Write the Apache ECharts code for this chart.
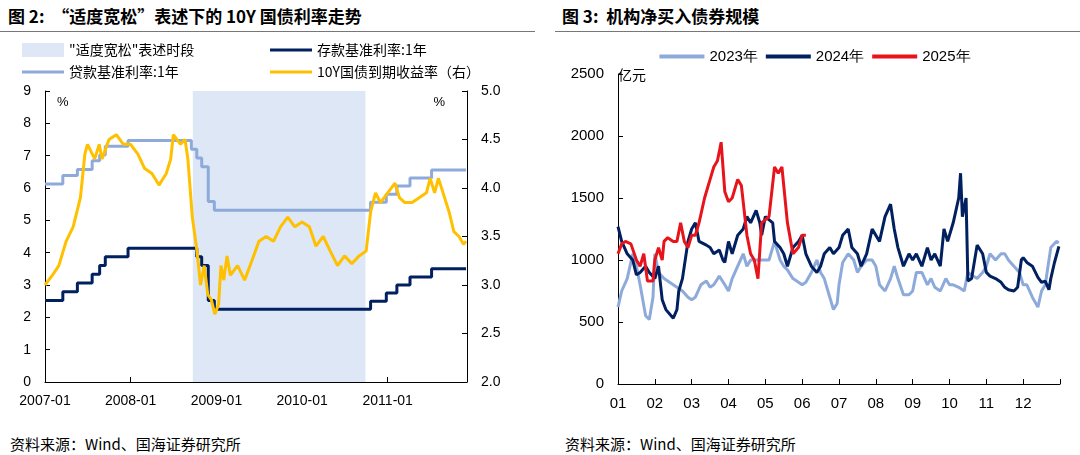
<!DOCTYPE html>
<html>
<head>
<meta charset="utf-8">
<script src="https://cdn.jsdelivr.net/npm/echarts@6/dist/echarts.min.js"></script>
<style>
  body { margin: 0; background: #fff; font-family: "Noto Sans CJK SC", sans-serif; }
  #wrap { position: relative; width: 1080px; height: 455px; overflow: hidden; }
  .title { position: absolute; top: 3px; font-size: 17px; font-weight: bold; color: #000; }
  .src { position: absolute; top: 433px; font-size: 15px; color: #000; }
  .rule { position: absolute; top: 31px; height: 1px; background: #777; }
  #c1 { position: absolute; left: 0; top: 32px; width: 540px; height: 390px; }
  #c2 { position: absolute; left: 550px; top: 32px; width: 530px; height: 390px; }
</style>
</head>
<body>
<div id="wrap">
  <div class="title" style="left:8px">图 2:&nbsp;&nbsp;“适度宽松”表述下的 10Y 国债利率走势</div>
  <div class="title" style="left:562px">图 3:&nbsp;&nbsp;机构净买入债券规模</div>
  <div class="rule" style="left:0;width:535px"></div>
  <div class="rule" style="left:555px;width:525px"></div>
  <div id="c1"></div>
  <div id="c2"></div>
  <div class="src" style="left:10px">资料来源：Wind、国海证券研究所</div>
  <div class="src" style="left:565px">资料来源：Wind、国海证券研究所</div>
</div>
<script>
// 左图：基准利率（阶梯）与10Y国债
var loanRate = [
  ['2007-01-01', 6.12], ['2007-03-18', 6.39], ['2007-05-19', 6.57], ['2007-07-21', 6.84],
  ['2007-08-22', 7.02], ['2007-09-15', 7.29], ['2007-12-21', 7.47], ['2008-09-16', 7.20],
  ['2008-10-09', 6.93], ['2008-10-30', 6.66], ['2008-11-27', 5.58], ['2008-12-23', 5.31],
  ['2010-10-20', 5.56], ['2010-12-26', 5.81], ['2011-02-09', 6.06], ['2011-04-06', 6.31],
  ['2011-07-07', 6.56], ['2011-12-01', 6.56]
];
var depositRate = [
  ['2007-01-01', 2.52], ['2007-03-18', 2.79], ['2007-05-19', 3.06], ['2007-07-21', 3.33],
  ['2007-08-22', 3.60], ['2007-09-15', 3.87], ['2007-12-21', 4.14], ['2008-10-09', 3.87],
  ['2008-10-30', 3.60], ['2008-11-27', 2.52], ['2008-12-23', 2.25], ['2010-10-20', 2.50],
  ['2010-12-26', 2.75], ['2011-02-09', 3.00], ['2011-04-06', 3.25], ['2011-07-07', 3.50],
  ['2011-12-01', 3.50]
];
var yield10y = [
  ['2007-01-01', 3.0], ['2007-02-01', 3.1], ['2007-03-01', 3.2], ['2007-04-01', 3.45], ['2007-05-01', 3.6],
  ['2007-06-01', 3.9], ['2007-06-20', 4.35], ['2007-07-01', 4.45], ['2007-08-01', 4.3], ['2007-08-20', 4.45],
  ['2007-09-01', 4.3], ['2007-10-01', 4.5], ['2007-11-01', 4.55], ['2007-12-01', 4.45], ['2008-01-01', 4.45],
  ['2008-02-01', 4.35], ['2008-03-01', 4.2], ['2008-04-01', 4.15], ['2008-05-01', 4.03], ['2008-06-01', 4.15],
  ['2008-06-20', 4.3], ['2008-07-01', 4.55], ['2008-08-01', 4.45], ['2008-08-20', 4.5], ['2008-09-01', 4.3],
  ['2008-09-20', 3.7], ['2008-10-10', 3.35], ['2008-10-25', 3.0], ['2008-11-10', 3.2], ['2008-11-25', 2.9],
  ['2008-12-10', 2.85], ['2008-12-25', 2.7], ['2009-01-10', 2.8], ['2009-01-20', 3.2], ['2009-02-01', 3.05],
  ['2009-02-15', 3.3], ['2009-03-01', 3.1], ['2009-04-01', 3.2], ['2009-05-01', 3.05], ['2009-06-01', 3.25],
  ['2009-07-01', 3.45], ['2009-08-01', 3.5], ['2009-09-01', 3.45], ['2009-10-01', 3.6], ['2009-11-01', 3.7],
  ['2009-12-01', 3.6], ['2010-01-01', 3.65], ['2010-02-01', 3.6], ['2010-03-01', 3.4], ['2010-04-01', 3.5],
  ['2010-05-01', 3.35], ['2010-06-01', 3.2], ['2010-07-01', 3.3], ['2010-08-01', 3.22], ['2010-09-01', 3.3],
  ['2010-10-01', 3.35], ['2010-10-20', 3.75], ['2010-11-10', 3.95], ['2010-12-01', 3.85], ['2011-01-01', 3.95],
  ['2011-02-01', 4.05], ['2011-02-20', 3.9], ['2011-03-15', 3.85], ['2011-04-15', 3.85], ['2011-05-15', 3.9],
  ['2011-06-15', 3.95], ['2011-07-01', 4.1], ['2011-07-20', 3.95], ['2011-08-05', 4.1], ['2011-08-25', 3.95],
  ['2011-09-20', 3.75], ['2011-10-10', 3.55], ['2011-11-01', 3.5], ['2011-11-20', 3.42], ['2011-12-01', 3.45]
];
var easePeriod = ['2008-09-22', '2010-09-28'];

// 右图：机构净买入（x = 月份位置）
var buy2023 = [
  [1.0,620],[1.1,750],[1.25,850],[1.4,1050],[1.5,950],[1.6,800],[1.75,550],[1.85,520],[1.95,700],[2.0,1050],
  [2.1,900],[2.25,850],[2.4,820],[2.5,800],[2.6,780],[2.75,750],[2.9,700],[3.0,680],[3.1,700],[3.25,800],
  [3.4,830],[3.5,780],[3.6,800],[3.75,870],[3.9,800],[4.0,750],[4.1,850],[4.25,950],[4.4,1050],[4.5,950],
  [4.6,1000],[4.75,1000],[4.9,1000],[5.0,1000],[5.1,1000],[5.25,1150],[5.4,1000],[5.5,950],[5.6,920],[5.75,850],
  [5.9,820],[6.0,800],[6.1,820],[6.25,900],[6.4,1000],[6.5,900],[6.6,850],[6.75,700],[6.85,600],[6.95,650],
  [7.0,800],[7.1,980],[7.25,1050],[7.4,1000],[7.5,900],[7.6,950],[7.75,1000],[7.9,1000],[8.0,950],[8.1,800],
  [8.25,750],[8.4,850],[8.5,950],[8.6,850],[8.75,720],[8.9,720],[9.0,750],[9.1,900],[9.25,900],[9.4,800],
  [9.5,850],[9.6,780],[9.75,750],[9.9,850],[10.0,800],[10.1,800],[10.25,780],[10.4,750],[10.5,900],[10.6,880],
  [10.75,850],[10.9,900],[11.0,950],[11.1,1050],[11.25,1000],[11.4,1050],[11.5,1050],[11.6,1000],[11.75,950],[11.9,900],
  [12.0,800],[12.1,800],[12.25,700],[12.4,620],[12.5,750],[12.6,800],[12.75,1100],[12.9,1150],[12.97,1140]
];
var buy2024 = [
  [1.0,1270],[1.1,1150],[1.25,1050],[1.4,1000],[1.5,880],[1.6,900],[1.75,950],[1.85,900],[2.0,850],[2.1,950],
  [2.2,680],[2.3,600],[2.5,530],[2.6,600],[2.65,750],[2.75,850],[2.9,1150],[3.0,1250],[3.1,1300],[3.2,1150],
  [3.4,1120],[3.5,1100],[3.6,1050],[3.75,1080],[3.85,1000],[3.9,980],[4.0,1150],[4.1,1050],[4.25,1200],[4.4,1250],
  [4.5,1350],[4.6,1300],[4.75,1400],[4.85,1300],[4.9,1200],[5.0,1350],[5.2,1300],[5.25,1150],[5.4,1100],[5.5,1050],
  [5.6,950],[5.75,1100],[5.9,1150],[6.0,1200],[6.1,1050],[6.25,950],[6.4,900],[6.5,950],[6.6,1050],[6.75,1100],
  [6.85,1050],[7.0,1100],[7.1,1200],[7.25,1250],[7.35,1100],[7.5,1050],[7.6,950],[7.75,1050],[7.9,1250],[8.0,1200],
  [8.1,1150],[8.25,1350],[8.4,1450],[8.5,1250],[8.6,1100],[8.75,950],[8.9,1050],[9.0,1000],[9.1,1050],[9.25,950],
  [9.4,1100],[9.5,1000],[9.6,1050],[9.75,950],[9.85,1250],[9.95,1150],[10.1,1300],[10.25,1500],[10.3,1700],[10.35,1350],
  [10.45,1500],[10.5,830],[10.6,850],[10.75,1120],[10.9,1050],[11.0,900],[11.1,870],[11.25,850],[11.4,820],[11.5,780],
  [11.6,760],[11.75,750],[11.85,780],[11.95,1000],[12.0,1020],[12.1,980],[12.25,950],[12.4,860],[12.5,820],[12.6,830],
  [12.7,760],[12.75,850],[12.85,980],[12.97,1110]
];
var buy2025 = [
  [1.0,1050],[1.1,1130],[1.2,1150],[1.35,1130],[1.5,1000],[1.6,950],[1.7,1050],[1.8,830],[1.95,830],[2.0,1000],
  [2.1,1100],[2.2,1000],[2.25,1150],[2.35,1180],[2.5,1150],[2.6,1150],[2.7,1300],[2.8,1150],[2.9,1100],[3.0,1200],
  [3.1,1200],[3.2,1300],[3.35,1500],[3.5,1650],[3.6,1750],[3.7,1800],[3.8,1950],[3.9,1550],[4.0,1470],[4.1,1500],
  [4.25,1650],[4.35,1600],[4.5,1200],[4.6,1050],[4.7,1000],[4.8,850],[4.9,1300],[5.1,1350],[5.25,1750],[5.35,1700],
  [5.45,1750],[5.6,1300],[5.75,1050],[5.9,1100],[6.0,1200],[6.1,1200]
];
var monthLabels = ['01','02','03','04','05','06','07','08','09','10','11','12'];

var font = 'Liberation Sans, Arial, sans-serif';
var cjk = 'Noto Sans CJK SC';

(function () {
  var myChart = echarts.init(document.getElementById('c1'));
  var legendText = { fontFamily: cjk, fontSize: 14, color: '#000' };
  function leg(left, top, name, h) {
    return { left: left, top: top, itemWidth: 42, itemHeight: h, icon: 'rect', textStyle: legendText, data: [name] };
  }
  var option = {
    animation: false,
    legend: [
      leg(17, 6, '"适度宽松"表述时段', 14),
      leg(17, 28, '贷款基准利率:1年', 3),
      leg(265, 6, '存款基准利率:1年', 3),
      leg(265, 28, '10Y国债到期收益率（右）', 3)
    ],
    grid: { left: 45, right: 73, top: 59, bottom: 40 },
    xAxis: {
      type: 'time', min: '2007-01-01', max: '2011-12-05',
      interval: 365 * 24 * 3600 * 1000,
      axisLine: { lineStyle: { color: '#000' } },
      axisTick: { lineStyle: { color: '#000' }, length: -5 },
      axisLabel: { color: '#000', fontFamily: font, fontSize: 14, margin: 12,
        formatter: function (v) { var d = new Date(v); return d.getFullYear() + '-01'; } },
      splitLine: { show: false }
    },
    yAxis: [
      { type: 'value', min: 0, max: 9, interval: 1, name: '%', nameLocation: 'end', nameGap: -18,
        nameTextStyle: { color: '#000', align: 'left', padding: [0, 0, 0, 12], fontSize: 13 },
        axisLine: { show: true, lineStyle: { color: '#000' } },
        axisTick: { show: true, inside: true, lineStyle: { color: '#000' } },
        axisLabel: { color: '#000', fontFamily: font, fontSize: 14, margin: 14 }, splitLine: { show: false } },
      { type: 'value', min: 2, max: 5, interval: 0.5, name: '%', nameLocation: 'end', nameGap: -18,
        nameTextStyle: { color: '#000', align: 'right', padding: [0, 22, 0, 0], fontSize: 13 },
        axisLine: { show: true, lineStyle: { color: '#000' } },
        axisTick: { show: true, inside: true, lineStyle: { color: '#000' } },
        axisLabel: { color: '#000', fontFamily: font, fontSize: 14, margin: 14, formatter: function (v) { return v.toFixed(1); } },
        splitLine: { show: false } }
    ],
    series: [
      { name: '"适度宽松"表述时段', type: 'line', data: [], itemStyle: { color: '#dde7f5' },
        markArea: { silent: true, itemStyle: { color: '#dde7f5' }, data: [[{ xAxis: easePeriod[0] }, { xAxis: easePeriod[1] }]] } },
      { name: '贷款基准利率:1年', type: 'line', step: 'end', data: loanRate, showSymbol: false,
        lineStyle: { width: 3, color: '#8eaadb' }, itemStyle: { color: '#8eaadb' } },
      { name: '存款基准利率:1年', type: 'line', step: 'end', data: depositRate, showSymbol: false,
        lineStyle: { width: 3, color: '#002060' }, itemStyle: { color: '#002060' } },
      { name: '10Y国债到期收益率（右）', type: 'line', yAxisIndex: 1, data: yield10y, showSymbol: false,
        lineStyle: { width: 3, color: '#ffc000' }, itemStyle: { color: '#ffc000' } }
    ]
  };
  myChart.setOption(option);
})();

(function () {
  var myChart = echarts.init(document.getElementById('c2'));
  var option = {
    animation: false,
    legend: {
      left: 'center', top: 12, itemWidth: 45, itemHeight: 4, itemGap: 8, icon: 'rect',
      textStyle: { fontFamily: font, fontSize: 15, color: '#000' },
      data: ['2023年', '2024年', '2025年']
    },
    grid: { left: 68, right: 20, top: 42, bottom: 38 },
    xAxis: {
      type: 'value', min: 1, max: 13, interval: 1,
      axisLine: { lineStyle: { color: '#000' } },
      axisTick: { show: true, inside: true, lineStyle: { color: '#000' } },
      axisLabel: { color: '#000', fontFamily: font, fontSize: 15, margin: 12,
        formatter: function (v) { return monthLabels[v - 1] || ''; } },
      splitLine: { show: false }
    },
    yAxis: {
      type: 'value', min: 0, max: 2500, interval: 500, name: '亿元', nameLocation: 'end', nameGap: -8,
      nameTextStyle: { color: '#000', align: 'left', padding: [0, 0, 0, 0], fontFamily: cjk, fontSize: 14 },
      axisLine: { show: true, lineStyle: { color: '#000' } },
      axisTick: { show: true, inside: true, lineStyle: { color: '#000' } },
      axisLabel: { color: '#000', fontFamily: font, fontSize: 15, margin: 14, formatter: function (v) { return String(v); } },
      splitLine: { show: false }
    },
    series: [
      { name: '2023年', type: 'line', data: buy2023, showSymbol: false, lineStyle: { width: 3, color: '#8eaadb' }, itemStyle: { color: '#8eaadb' } },
      { name: '2024年', type: 'line', data: buy2024, showSymbol: false, lineStyle: { width: 3, color: '#002060' }, itemStyle: { color: '#002060' } },
      { name: '2025年', type: 'line', data: buy2025, showSymbol: false, lineStyle: { width: 3, color: '#e8141c' }, itemStyle: { color: '#e8141c' } }
    ]
  };
  myChart.setOption(option);
})();
</script>
</body>
</html>
